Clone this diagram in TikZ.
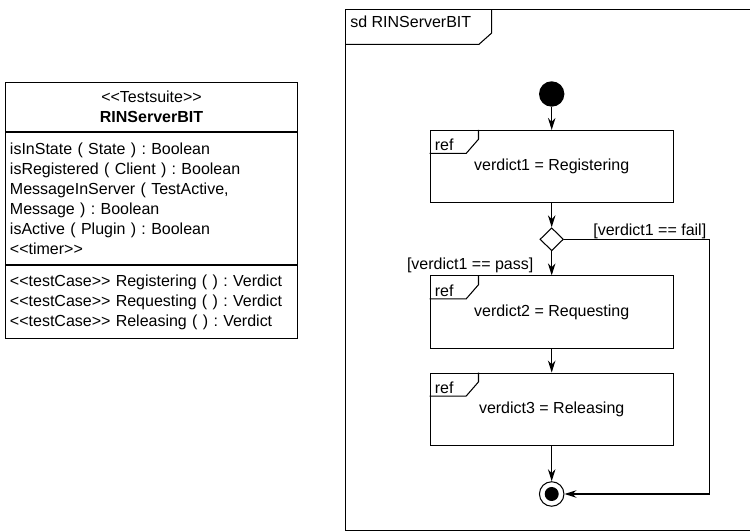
\documentclass[tikz,border=0pt]{standalone}
\usepackage{fontspec}
\setmainfont{Liberation Sans}
\usetikzlibrary{shapes.geometric, arrows.meta, positioning, calc}
\frenchspacing

\newcommand{\stereotype}[1]{<{}<#1>{}>}

\tikzset{
  umlfont/.style={font=\fontsize{9.1}{11.4}\selectfont},
  classpart/.style={draw, line width=0.6pt, minimum width=5.832cm, text width=5.66cm,
    inner xsep=0.086cm, inner ysep=0pt, anchor=north},
  refbox/.style={draw, line width=0.6pt, minimum width=4.866cm, minimum height=1.45cm},
  flow/.style={-{Stealth[length=2.4mm, width=1.5mm]}, line width=0.6pt},
  guard/.style={anchor=base west, inner sep=0pt},
  finalnode/.style={circle, draw, line width=0.6pt, minimum size=0.49cm, inner sep=0pt,
    path picture={\fill (path picture bounding box.center) circle (0.14);}},
}

\begin{document}
\begin{tikzpicture}[umlfont]
  \useasboundingbox (0,0) rectangle (15,10.62);

  % Test suite class
  \node[classpart, align=center, minimum height=0.968cm] (suitehead) at (3.03, 8.974)
    {\stereotype{Testsuite}\\\textbf{RINServerBIT}};
  \node[classpart, align=left, minimum height=2.652cm, below=0pt of suitehead] (suiteattr) {
    isInState ( State ) : Boolean\\
    isRegistered ( Client ) : Boolean\\
    MessageInServer ( TestActive,\\
    Message ) : Boolean\\
    isActive ( Plugin ) : Boolean\\
    \stereotype{timer}};
  \node[classpart, align=left, minimum height=1.454cm, below=0pt of suiteattr] (suiteops) {
    \stereotype{testCase} Registering ( ) : Verdict\\
    \stereotype{testCase} Requesting ( ) : Verdict\\
    \stereotype{testCase} Releasing ( ) : Verdict};

  % sd frame
  \draw[line width=0.6pt] (15.2, 10.434) -- (6.91, 10.434) -- (6.91, 0.01) -- (15.2, 0.01);
  \draw[line width=0.6pt] (6.91, 9.734) -- (9.58, 9.734) -- (9.834, 9.96) -- (9.834, 10.434);
  \node[anchor=base west, inner sep=0pt] (sdname) at (7.0, 10.06) {sd RINServerBIT};

  % Activity flow
  \node[circle, fill=black, minimum size=0.508cm, inner sep=0pt] (start) at (11.034, 8.74) {};
  \node[refbox] (regist) at (11.034, 7.286) {verdict1 = Registering};
  \node[diamond, draw, line width=0.6pt, minimum width=0.47cm, minimum height=0.46cm, inner sep=0pt] (branch) at (11.034, 5.834) {};
  \node[refbox] (request) at (11.034, 4.377) {verdict2 = Requesting};
  \node[refbox] (release) at (11.034, 2.433) {verdict3 = Releasing};
  \node[finalnode] (stop) at (11.034, 0.74) {};

  % ref tags
  \foreach \b in {regist, request, release} {
    \draw[line width=0.6pt] ($(\b.north west)+(0.98,0)$) -- ++(0,-0.186) -- ++(-0.247,-0.284) -- ++(-0.733,0);
    \node[anchor=base west, inner sep=0pt] (\b-tag) at ($(\b.north west)+(0.1,-0.42)$) {ref};
  }

  % Guards
  \node[guard] (failguard) at (11.86, 5.9) {[verdict1 == fail]};
  \node[guard] (passguard) at (8.134, 5.22) {[verdict1 == pass]};

  \coordinate (failbend) at (14.186, 5.834);

  \draw[flow] (start) -- (regist);
  \draw[flow] (regist) -- (branch);
  \draw[flow] (branch) -- (request);
  \draw[flow] (request) -- (release);
  \draw[flow] (release) -- (stop);
  \draw[flow] (branch.east) -- (failbend) |- (stop);
\end{tikzpicture}
\end{document}
